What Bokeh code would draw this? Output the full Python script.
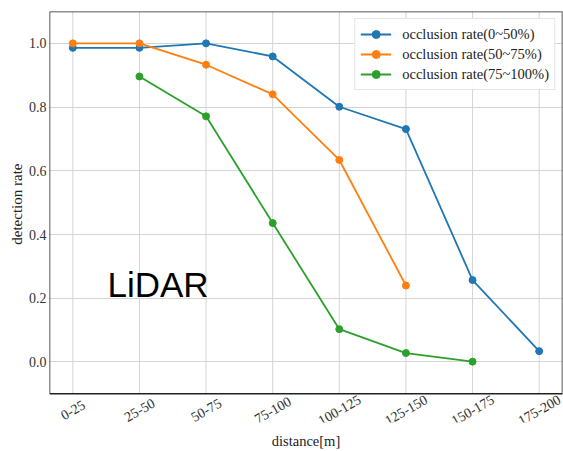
import math
from bokeh.plotting import figure
from bokeh.models import (FixedTicker, Legend, LegendItem, Label, Range1d,
                          BoxAnnotation, Title)
from bokeh.embed import file_html
from bokeh.resources import INLINE

categories = ["0-25", "25-50", "50-75", "75-100", "100-125", "125-150", "150-175", "175-200"]
rate_0_50 = [0.986, 0.986, 1.0, 0.959, 0.801, 0.731, 0.257, 0.034]
rate_50_75 = [1.0, 1.0, 0.933, 0.840, 0.634, 0.240, None, None]
rate_75_100 = [None, 0.896, 0.771, 0.436, 0.103, 0.028, 0.001, None]
series_names = ["occlusion rate(0~50%)", "occlusion rate(50~75%)", "occlusion rate(75~100%)"]
colors = ["#1f77b4", "#ff7f0e", "#2ca02c"]
y_ticks = [0.0, 0.2, 0.4, 0.6, 0.8, 1.0]

# axes box limits (data units)
x_min, x_max = -0.35, 7.35
y_min, y_max = -0.1, 1.1
# the visible y-range extends below the box to leave room for rotated category labels
y_view_min = -0.19

FONT = "'Liberation Serif', serif"
GRID = "#d4d4d4"
EDGE = "#222222"

p = figure(width=563, height=451, output_backend="svg", toolbar_location=None,
           x_range=Range1d(x_min, x_max), y_range=Range1d(y_view_min, y_max),
           min_border_left=49, min_border_right=1, min_border_top=11, min_border_bottom=28)

p.outline_line_color = None
p.background_fill_color = "white"

for ax in (p.xaxis[0], p.yaxis[0]):
    ax.axis_line_color = None
    ax.major_label_text_font = FONT
    ax.major_label_text_font_size = "14px"
    ax.major_label_text_color = "#333333"
    ax.axis_label_text_font = FONT
    ax.axis_label_text_font_size = "14.5px"
    ax.axis_label_text_font_style = "normal"
    ax.axis_label_text_color = EDGE
    ax.minor_tick_line_color = None
    ax.major_tick_line_color = None
    ax.major_tick_in = 0
    ax.major_tick_out = 0

p.xaxis.ticker = FixedTicker(ticks=[])
p.xaxis.axis_label = "distance[m]"
p.xaxis.axis_label_standoff = 10

p.yaxis.ticker = FixedTicker(ticks=y_ticks)
p.yaxis.major_label_overrides = {t: f"{t:.1f}" for t in y_ticks}
p.yaxis.major_label_standoff = 3

# y-axis title, placed alongside the axes box
p.add_layout(Title(text="detection rate", align="right", offset=152, standoff=2,
                   text_font=FONT, text_font_size="15px", text_font_style="normal",
                   text_color=EDGE), "left")

p.xgrid.visible = False
p.ygrid.grid_line_color = GRID
p.ygrid.grid_line_width = 1

# vertical grid lines at each category, limited to the axes box
cat_idx = list(range(len(categories)))
p.segment(x0=cat_idx, y0=[y_min] * len(cat_idx), x1=cat_idx, y1=[y_max] * len(cat_idx),
          line_color=GRID, line_width=1)

# axes box
p.add_layout(BoxAnnotation(left=x_min, right=x_max, bottom=y_min, top=y_max,
                           fill_alpha=0, line_color=EDGE, line_width=1.5, line_alpha=1))

# rotated, centred category labels under the box
for i, cat in enumerate(categories):
    p.add_layout(Label(x=i, y=y_min, text=cat, y_offset=-16, angle=math.pi / 6,
                       text_align="center", text_baseline="middle",
                       text_font=FONT, text_font_size="14px", text_color="#333333"))

items = []
for name, vals, col in zip(series_names, [rate_0_50, rate_50_75, rate_75_100], colors):
    xs = [i for i, v in enumerate(vals) if v is not None]
    ys = [v for v in vals if v is not None]
    ln = p.line(xs, ys, line_color=col, line_width=1.8)
    sc = p.scatter(xs, ys, size=7, fill_color=col, line_color=col)
    items.append(LegendItem(label=name, renderers=[ln, sc]))

legend = Legend(items=items, location="top_right")
legend.label_text_font = FONT
legend.label_text_font_size = "14.5px"
legend.label_text_color = EDGE
legend.border_line_color = "#cccccc"
legend.border_line_width = 1
legend.glyph_width = 31
legend.label_standoff = 11
legend.spacing = 0
legend.padding = 5
legend.margin = 7
legend.label_height = 20
legend.glyph_height = 20
p.add_layout(legend)

p.add_layout(Label(x=0.52, y=0.181, text="LiDAR", text_font="'Liberation Sans', sans-serif",
                   text_font_size="35px", text_color="black"))

open("out.html", "w").write(file_html(p, INLINE))
